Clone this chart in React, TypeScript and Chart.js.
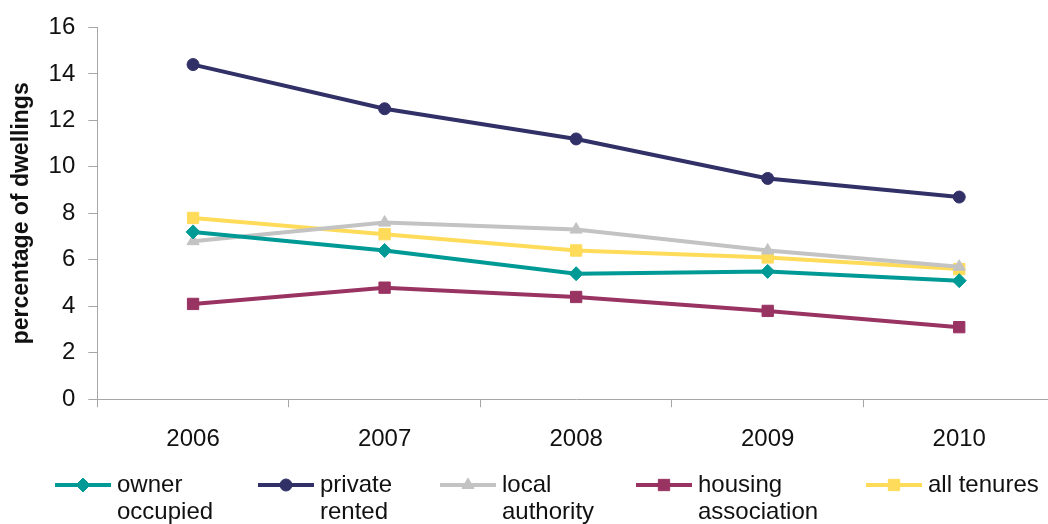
import React, { useEffect, useRef } from "react";
import { Chart, registerables } from "chart.js";
import { drawPoint } from "chart.js/helpers";

Chart.register(...registerables);

const years = ["2006", "2007", "2008", "2009", "2010"];
const ownerOccupied = [7.2, 6.4, 5.4, 5.5, 5.1];
const privateRented = [14.4, 12.5, 11.2, 9.5, 8.7];
const localAuthority = [6.8, 7.6, 7.3, 6.4, 5.7];
const housingAssociation = [4.1, 4.8, 4.4, 3.8, 3.1];
const allTenures = [7.8, 7.1, 6.4, 6.1, 5.6];
const legendLabels = [
  ["owner", "occupied"],
  ["private", "rented"],
  ["local", "authority"],
  ["housing", "association"],
  ["all tenures"],
];
const legendX = [55, 258, 440, 636, 866];

const FONT = "'Liberation Sans', Arial, sans-serif";

const legendPlugin = {
  id: "customLegend",
  afterDraw(chart: any) {
    const ctx = chart.ctx;
    const y = 485;
    chart.data.datasets.forEach((ds: any, i: number) => {
      const x0 = legendX[i];
      ctx.save();
      ctx.strokeStyle = ds.borderColor;
      ctx.lineWidth = 4;
      ctx.beginPath();
      ctx.moveTo(x0, y);
      ctx.lineTo(x0 + 56, y);
      ctx.stroke();
      ctx.fillStyle = ds.borderColor;
      ctx.strokeStyle = ds.borderColor;
      ctx.lineWidth = 1;
      drawPoint(ctx, { pointStyle: ds.pointStyle, radius: ds.pointRadius, borderWidth: 1, rotation: 0 } as any, x0 + 28, y);
      ctx.fillStyle = "#111";
      ctx.font = `24px ${FONT}`;
      ctx.textBaseline = "middle";
      ctx.textAlign = "left";
      legendLabels[i].forEach((t, j) => {
        ctx.fillText(t, x0 + 62, y + j * 27);
      });
      ctx.restore();
    });
  },
};

export default function App() {
  const ref = useRef<HTMLCanvasElement>(null);
  useEffect(() => {
    if (!ref.current) return;
    const mk = (label: string, data: number[], color: string, style: string, r: number) => ({
      label,
      data,
      borderColor: color,
      backgroundColor: color,
      pointBackgroundColor: color,
      pointBorderColor: color,
      borderWidth: 4,
      pointStyle: style,
      pointRadius: r,
      pointBorderWidth: 1,
      tension: 0,
    });
    const chart = new Chart(ref.current, {
      type: "line",
      data: {
        labels: years,
        datasets: [
          mk("owner occupied", ownerOccupied, "#009a96", "rectRot", 7),
          mk("private rented", privateRented, "#313168", "circle", 6),
          mk("local authority", localAuthority, "#c3c3c3", "triangle", 7),
          mk("housing association", housingAssociation, "#993362", "rect", 8),
          mk("all tenures", allTenures, "#ffdb5a", "rect", 8),
        ],
      },
      options: {
        animation: false,
        responsive: false,
        layout: { padding: { left: 8, top: 14, right: 0, bottom: 52 } },
        plugins: { legend: { display: false }, tooltip: { enabled: false } },
        scales: {
          x: {
            offset: true,
            grid: { offset: true, drawOnChartArea: false, drawTicks: true, tickLength: 8, color: "#a6a6a6" },
            border: { color: "#a6a6a6", width: 1 },
            ticks: { color: "#111", font: { family: FONT, size: 24 }, padding: 18 },
          },
          y: {
            min: 0,
            max: 16,
            ticks: { stepSize: 2, color: "#111", font: { family: FONT, size: 24 }, padding: 13 },
            grid: { drawOnChartArea: false, drawTicks: true, tickLength: 9, color: "#a6a6a6" },
            border: { color: "#a6a6a6", width: 1 },
            title: {
              display: true,
              text: "percentage of dwellings",
              color: "#111",
              font: { family: FONT, size: 23, weight: "bold" },
              padding: { top: 0, bottom: 0 },
            },
          },
        },
      },
      plugins: [legendPlugin],
    });
    return () => chart.destroy();
  }, []);
  return (
    <div style={{ position: "fixed", left: 0, top: 0, width: 1048, height: 524, overflow: "hidden", background: "#fff" }}>
      <canvas ref={ref} width={1064} height={524} style={{ display: "block" }} />
    </div>
  );
}
